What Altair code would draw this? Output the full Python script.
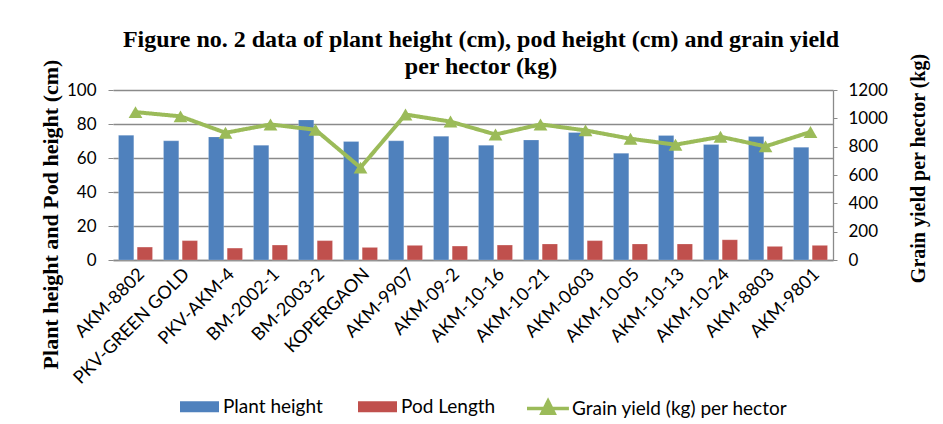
import altair as alt
import pandas as pd

categories = ["AKM-8802", "PKV-GREEN GOLD", "PKV-AKM-4", "BM-2002-1", "BM-2003-2",
              "KOPERGAON", "AKM-9907", "AKM-09-2", "AKM-10-16", "AKM-10-21",
              "AKM-0603", "AKM-10-05", "AKM-10-13", "AKM-10-24", "AKM-8803", "AKM-9801"]
plant_height = [73.4, 70.1, 72.4, 67.5, 82.4, 69.7, 70.1, 72.8, 67.5, 70.6,
                75.0, 62.8, 73.2, 67.9, 72.6, 66.3]
pod_length = [7.6, 11.4, 7.0, 8.8, 11.4, 7.4, 8.6, 8.2, 8.8, 9.4,
              11.4, 9.4, 9.4, 11.9, 8.0, 8.6]
grain_yield = [1044, 1014, 898, 957, 919, 652, 1027, 977, 886, 957,
               915, 856, 814, 870, 802, 904]
series_names = ["Plant height", "Pod Length", "Grain yield (kg) per hector"]
series_colors = ["#4F81BD", "#C0504D", "#9BBB59"]
left_ticks = [0, 20, 40, 60, 80, 100]
right_ticks = [0, 200, 400, 600, 800, 1000, 1200]

bars_df = pd.DataFrame(
    [{"category": c, "series": series_names[0], "value": v} for c, v in zip(categories, plant_height)]
    + [{"category": c, "series": series_names[1], "value": v} for c, v in zip(categories, pod_length)]
)
line_df = pd.DataFrame({"category": categories, "grain": grain_yield,
                        "series": series_names[2]})

LBL = "Lato"
SERIF = "Liberation Serif"
GREEN = series_colors[2]

x_enc = alt.X("category:N", sort=categories,
              scale=alt.Scale(paddingInner=0.244, paddingOuter=0.122),
              axis=alt.Axis(title=None, labelAngle=-45, labelFont=LBL, labelFontSize=18,
                            labelColor="#000", domainColor="#8a8a8a", domainWidth=1.3,
                            ticks=False, labelPadding=5))

rect_path = "M-1,-0.282H1V0.282H-1Z"
line_path = "M-1,0H1.15M0.08,-0.38L0.39,0.24H-0.23Z"

bars = alt.Chart(bars_df).mark_bar(stroke="#ffffff", strokeOpacity=0.35, strokeWidth=0.6).encode(
    x=x_enc,
    xOffset=alt.XOffset("series:N", sort=series_names[:2], scale=alt.Scale(paddingInner=0.18)),
    y=alt.Y("value:Q", scale=alt.Scale(domain=[0, 100]),
            axis=alt.Axis(values=left_ticks, title="Plant height and Pod height (cm)",
                          titleFont=SERIF, titleFontSize=22, titleFontWeight="bold",
                          titleColor="#000", titleX=-63, titleY=124, titleAngle=270,
                          titleBaseline="middle", titleAlign="center",
                          labelFont=LBL, labelFontSize=17, labelColor="#000",
                          labelPadding=12, domain=False, tickSize=5, tickColor="#8a8a8a",
                          grid=True, gridColor="#8a8a8a", gridWidth=1.3)),
    color=alt.Color(
        "series:N",
        scale=alt.Scale(domain=series_names[:2], range=series_colors[:2]),
        legend=alt.Legend(
            title=None, orient="none", legendX=67, legendY=297, direction="horizontal",
            columns=2, columnPadding=35, labelOffset=4, symbolSize=1521, padding=0,
            symbolType=rect_path, symbolStrokeWidth=0, labelFont=LBL, labelFontSize=19,
            labelColor="#000", labelLimit=400)),
)

y_right = alt.Y("grain:Q", scale=alt.Scale(domain=[0, 1200]),
                axis=alt.Axis(orient="right", values=right_ticks, format="d",
                              title="Grain yield per hector (kg)",
                              titleFont=SERIF, titleFontSize=20, titleFontWeight="bold",
                              titleColor="#000", titleX=85, titleY=78, titleAngle=270,
                              titleBaseline="middle", titleAlign="center",
                              labelFont=LBL, labelFontSize=17, labelColor="#000",
                              labelPadding=11, domainColor="#8a8a8a", domainWidth=1.3,
                              tickSize=4, tickColor="#8a8a8a", grid=False))

line = alt.Chart(line_df).mark_line(strokeWidth=4, color=GREEN).encode(
    x=x_enc, y=y_right,
    strokeDash=alt.StrokeDash(
        "series:N",
        scale=alt.Scale(domain=[series_names[2]], range=[[1, 0]]),
        legend=alt.Legend(
            title=None, orient="none", legendX=412, legendY=297, direction="horizontal",
            labelOffset=4, symbolSize=1521, padding=0, symbolType=line_path,
            symbolFillColor=GREEN, symbolStrokeColor=GREEN, symbolStrokeWidth=3.5,
            symbolDash=[1, 0], labelFont=LBL, labelFontSize=19, labelColor="#000",
            labelLimit=400)),
)
points = alt.Chart(line_df).mark_point(shape="triangle-up", filled=True, size=190,
                                       opacity=1, color=GREEN).encode(x=x_enc, y=y_right)

chart = alt.layer(bars, alt.layer(line, points)).resolve_scale(y="independent").properties(
    width=720, height=170,
    padding={"left": 105, "top": 82, "right": 102, "bottom": 164},
    autosize=alt.AutoSizeParams(type="none"),
    title=alt.TitleParams(
        text=["Figure no. 2 data of plant height (cm), pod height (cm) and grain yield",
              "per hector (kg)"],
        font=SERIF, fontSize=24, fontWeight="bold", color="#000",
        anchor="middle", offset=10, lineHeight=27, dx=8, dy=36),
).configure_view(stroke=None)

chart.save("out.html", embed_options={"renderer": "svg", "actions": False})
